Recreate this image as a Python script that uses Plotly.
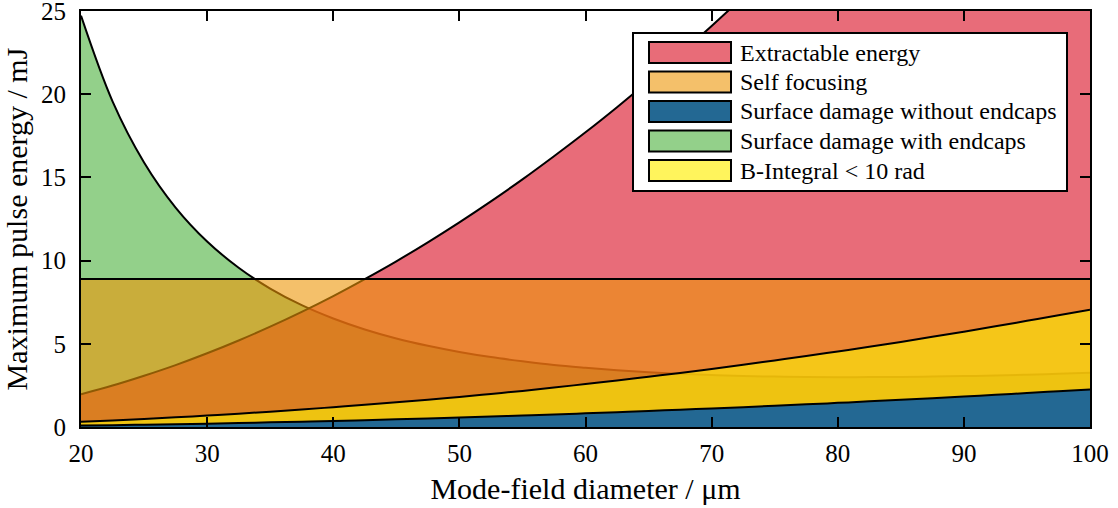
import plotly.graph_objects as go

# Mode-field diameter (µm)
mfd = [20, 22.5, 25, 27.5, 30, 32.5, 35, 37.5, 40, 42.5, 45, 47.5, 50, 52.5, 55, 57.5,
       60, 62.5, 65, 67.5, 70, 72.5, 75, 77.5, 80, 82.5, 85, 87.5, 90, 92.5, 95, 97.5, 100]

extractable = [1.97, 2.49, 3.08, 3.72, 4.43, 5.20, 6.03, 6.92, 7.87, 8.89, 9.96, 11.1,
               12.3, 13.56, 14.88, 16.27, 17.71, 19.22, 20.79, 22.42, 24.1, 25.86, 27.7,
               29.6, 31.5, 33.5, 35.5, 37.7, 39.9, 42.1, 44.4, 46.8, 49.2]

self_focusing = [8.9] * len(mfd)

surf_with_endcaps = [24.72, 19.57, 15.90, 13.19, 11.15, 9.57, 8.32, 7.32, 6.52, 5.86, 5.32,
                     4.88, 4.51, 4.20, 3.95, 3.73, 3.56, 3.41, 3.29, 3.19, 3.12, 3.06, 3.03,
                     3.00, 2.99, 3.00, 3.00, 3.03, 3.06, 3.09, 3.14, 3.20, 3.26]

surf_without_endcaps = [0.09, 0.11, 0.14, 0.17, 0.20, 0.24, 0.28, 0.32, 0.36, 0.41, 0.46,
                        0.51, 0.57, 0.63, 0.69, 0.75, 0.82, 0.89, 0.96, 1.04, 1.11, 1.19,
                        1.28, 1.36, 1.45, 1.54, 1.64, 1.73, 1.83, 1.94, 2.04, 2.15, 2.26]

b_integral = [0.31, 0.39, 0.48, 0.58, 0.69, 0.80, 0.92, 1.05, 1.19, 1.33, 1.48, 1.64, 1.81,
              1.99, 2.17, 2.37, 2.58, 2.79, 3.02, 3.25, 3.49, 3.74, 4.00, 4.26, 4.54, 4.82,
              5.11, 5.42, 5.73, 6.05, 6.38, 6.71, 7.05]

x_ticks = [20, 30, 40, 50, 60, 70, 80, 90, 100]
y_ticks = [0, 5, 10, 15, 20, 25]

legend_labels = ["Extractable energy", "Self focusing", "Surface damage without endcaps",
                 "Surface damage with endcaps", "B-Integral < 10 rad"]

FONT = "Liberation Serif, Times New Roman, serif"

C_GREEN = "rgba(75,177,60,0.6)"
C_RED = "rgba(218,18,38,0.62)"
C_ORANGE = "rgba(237,150,7,0.6)"
C_YELLOW = "rgba(252,242,7,0.6)"
C_BLUE = "rgb(35,104,147)"

# legend swatch colours (as they appear on white)
legend_colors = ["rgb(232,108,120)", "rgb(244,192,106)", "rgb(35,104,147)",
                 "rgb(147,208,138)", "rgb(255,244,92)"]

fig = go.Figure()

def add_area(y, color, name):
    fig.add_trace(go.Scatter(
        x=mfd, y=y, name=name, mode="lines", fill="tozeroy", fillcolor=color,
        line=dict(color="black", width=2, shape="spline", smoothing=1.0),
        showlegend=False, hoverinfo="skip"))

add_area(surf_with_endcaps, C_GREEN, legend_labels[3])
add_area(extractable, C_RED, legend_labels[0])
add_area(self_focusing, C_ORANGE, legend_labels[1])
add_area(b_integral, C_YELLOW, legend_labels[4])
add_area(surf_without_endcaps, C_BLUE, legend_labels[2])

L, R, T, B = 81, 28, 11, 81
W, H = 1118, 508
pw, ph = W - L - R, H - T - B

def px_x(p):
    return (p - L) / pw

def px_y(p):
    return (H - B - p) / ph

shapes = []
annotations = []
# legend box
shapes.append(dict(type="rect", xref="paper", yref="paper",
                   x0=px_x(633), x1=px_x(1067), y0=px_y(191), y1=px_y(33),
                   fillcolor="white", line=dict(color="black", width=2), layer="above"))
row_centers = [52.5, 82, 111.5, 141, 170.5]
for lab, col, cy in zip(legend_labels, legend_colors, row_centers):
    shapes.append(dict(type="rect", xref="paper", yref="paper",
                       x0=px_x(649), x1=px_x(731), y0=px_y(cy + 10.5), y1=px_y(cy - 10.5),
                       fillcolor=col, line=dict(color="black", width=2), layer="above"))
    annotations.append(dict(xref="paper", yref="paper", x=px_x(738), y=px_y(cy),
                            xanchor="left", yanchor="middle", text=lab, showarrow=False,
                            font=dict(family=FONT, size=24, color="black")))

fig.update_layout(
    width=W, height=H,
    margin=dict(l=L, r=R, t=T, b=B, autoexpand=False),
    paper_bgcolor="white", plot_bgcolor="white",
    font=dict(family=FONT, size=25, color="black"),
    shapes=shapes, annotations=annotations,
    xaxis=dict(range=[20, 100], tickvals=x_ticks, ticks="inside", ticklen=10, tickwidth=2,
               tickcolor="black", showline=True, linecolor="black", linewidth=2,
               mirror="allticks", showgrid=False, zeroline=False, automargin=False,
               tickfont=dict(family=FONT, size=25), ticklabelstandoff=3,
               ticklabeloverflow="allow",
               title=dict(text="Mode-field diameter / μm", font=dict(family=FONT, size=30),
                          standoff=12)),
    yaxis=dict(range=[0, 25], tickvals=y_ticks, ticks="inside", ticklen=10, tickwidth=2,
               tickcolor="black", showline=True, linecolor="black", linewidth=2,
               mirror="allticks", showgrid=False, zeroline=False, automargin=False,
               tickfont=dict(family=FONT, size=25), ticklabelstandoff=8,
               ticklabeloverflow="allow",
               title=dict(text="Maximum pulse energy / mJ", font=dict(family=FONT, size=30),
                          standoff=6)),
)

fig.write_html("out.html")
